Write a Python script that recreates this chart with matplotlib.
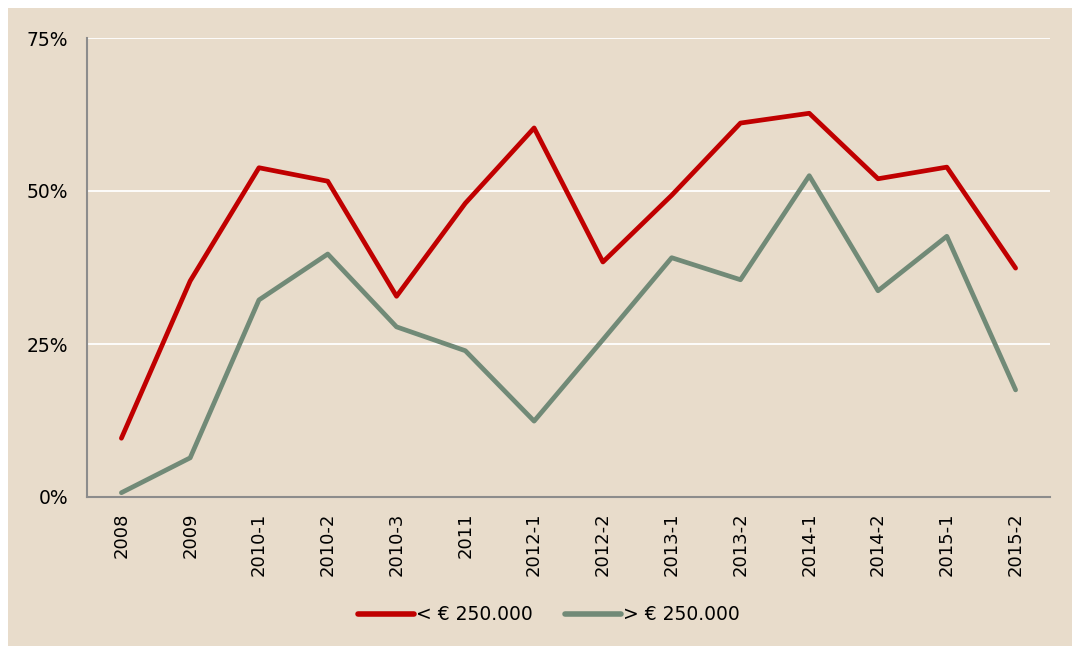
import matplotlib
matplotlib.use("Agg")
import matplotlib.pyplot as plt
from matplotlib.patches import Rectangle
from matplotlib.ticker import FuncFormatter

categories = ["2008", "2009", "2010-1", "2010-2", "2010-3", "2011", "2012-1",
              "2012-2", "2013-1", "2013-2", "2014-1", "2014-2", "2015-1", "2015-2"]
below_250k = [9.6, 35.3, 53.8, 51.6, 32.8, 48.0, 60.3, 38.4, 49.3, 61.1, 62.7, 52.0, 53.9, 37.4]
above_250k = [0.7, 6.4, 32.2, 39.7, 27.8, 23.9, 12.4, 25.7, 39.1, 35.5, 52.5, 33.7, 42.6, 17.5]
series_labels = ["< € 250.000", "> € 250.000"]
y_ticks = [0, 25, 50, 75]

bg = "#E8DCCB"
red = "#C00000"
green = "#718A77"

plt.rcParams['font.family'] = ['DejaVu Sans']
fig = plt.figure(figsize=(10.72, 6.46), dpi=100, facecolor="white")
bg_rect = Rectangle((8 / 1072, 0), 1 - 8 / 1072, 1 - 8 / 646,
                    transform=fig.transFigure, facecolor=bg,
                    edgecolor="none", zorder=-10)
fig.patches.append(bg_rect)
ax = fig.add_axes([87 / 1072, 149 / 646, (1050 - 87) / 1072, (497 - 38) / 646])
ax.set_zorder(1)
ax.set_facecolor(bg)

x = list(range(len(categories)))
ax.plot(x, below_250k, color=red, lw=3.4, label=series_labels[0], solid_capstyle="round", zorder=3)
ax.plot(x, above_250k, color=green, lw=3.4, label=series_labels[1], solid_capstyle="round", zorder=3)

ax.set_xlim(-0.5, len(categories) - 0.5)
ax.set_ylim(0, 75)
ax.set_yticks(y_ticks)
ax.yaxis.set_major_formatter(FuncFormatter(lambda v, p: f"{int(v)}%"))
ax.set_xticks(x)
ax.set_xticklabels(categories, rotation=90)
ax.grid(axis="y", color="white", lw=1.3, zorder=1)
ax.set_axisbelow(True)
ax.tick_params(axis="both", length=0, labelsize=13)
ax.tick_params(axis="y", pad=13.5, labelsize=13.5)
ax.tick_params(axis="x", pad=11)
for s in ["top", "right"]:
    ax.spines[s].set_visible(False)
for s in ["left", "bottom"]:
    ax.spines[s].set_color("#8C8C8C")
    ax.spines[s].set_linewidth(1.5)

leg = fig.legend(loc="center", bbox_to_anchor=(0.512, 1 - 615 / 646), ncol=2,
                 frameon=False, fontsize=13.5, handlelength=3.0, handletextpad=0.1,
                 columnspacing=1.7)
leg.set_zorder(2)
for line in leg.get_lines():
    line.set_linewidth(4)

fig.savefig("out.png", dpi=100, facecolor="white")
